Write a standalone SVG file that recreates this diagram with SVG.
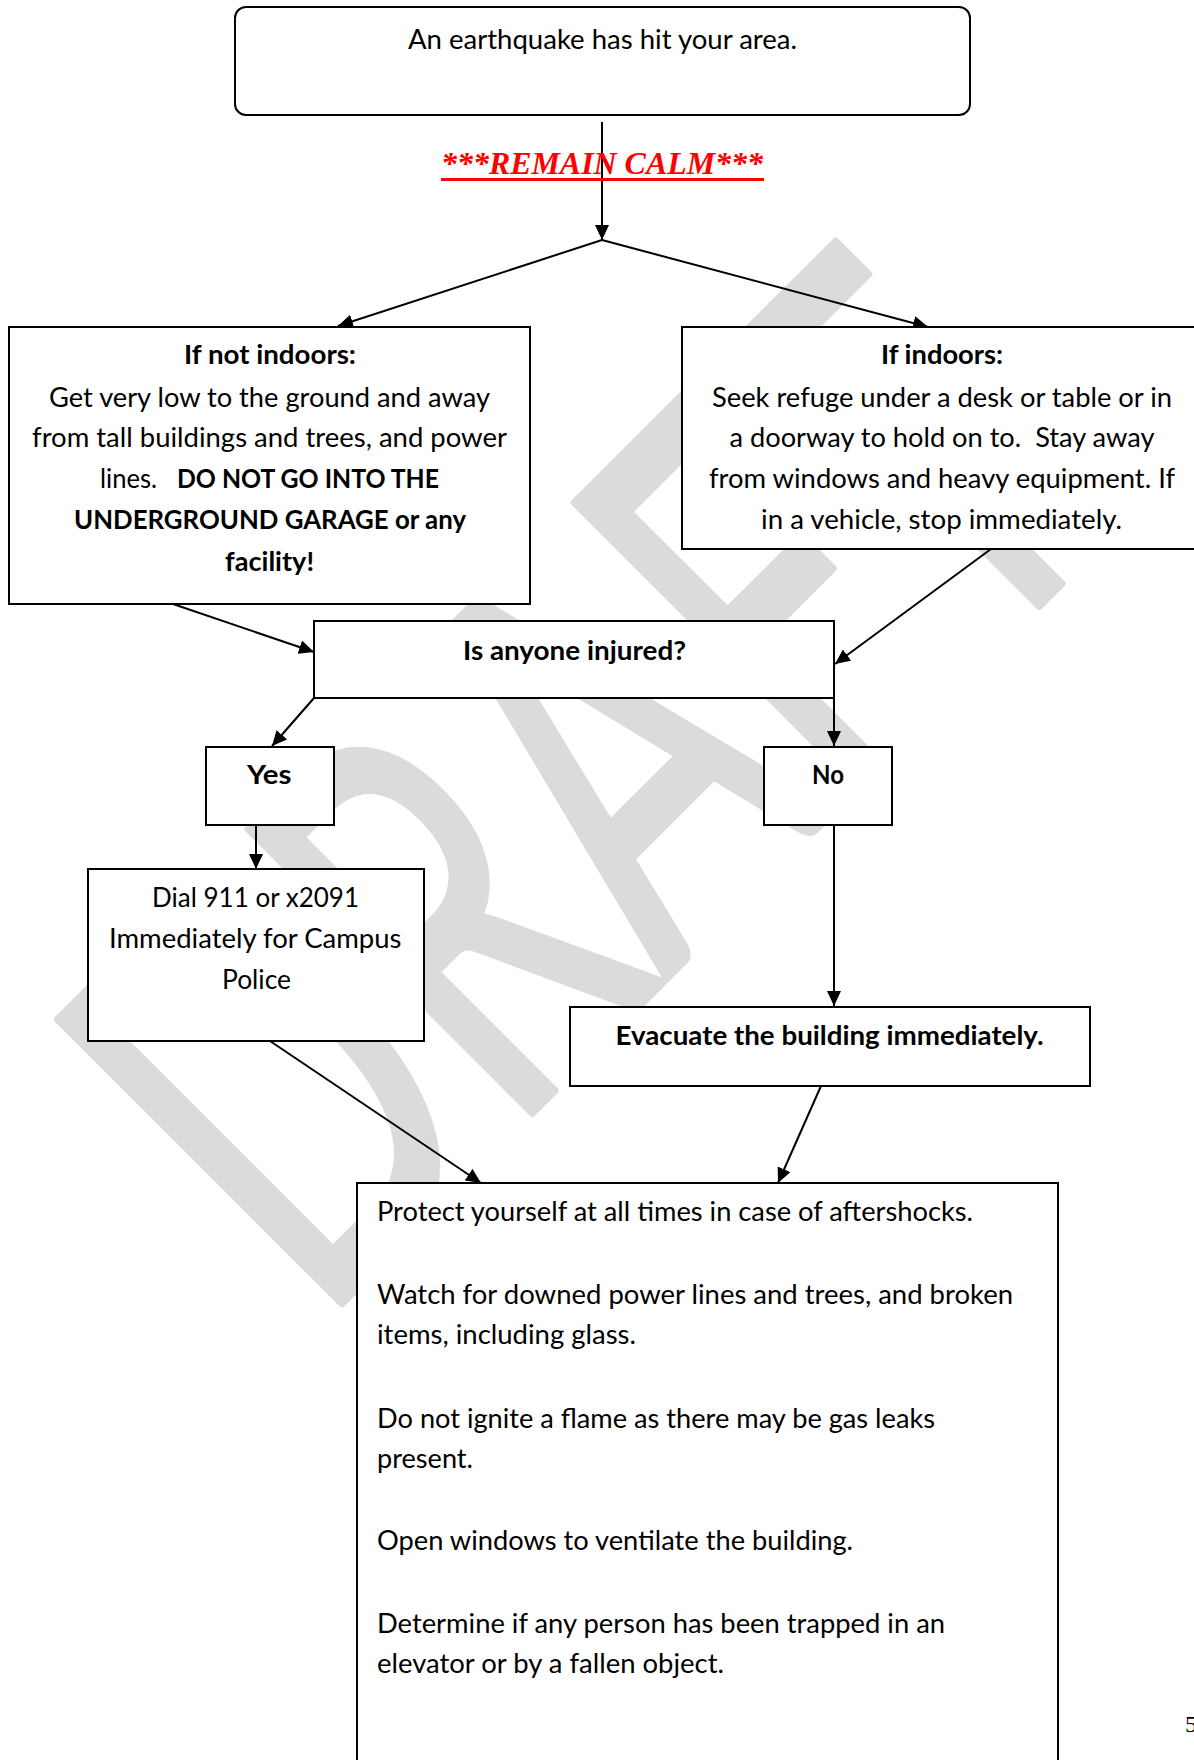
<svg xmlns="http://www.w3.org/2000/svg" width="1194" height="1760" viewBox="0 0 1194 1760">
<style>
.box{fill:#fff;stroke:#000;stroke-width:2}
.t{font-family:Lato,"Liberation Sans",sans-serif;font-size:26px;fill:#000}
.b{font-weight:700}
.con line{stroke:#000;stroke-width:2;marker-end:url(#arr)}
.wm{font-family:Lato,"Liberation Sans",sans-serif;font-size:560px;fill:#dbdbdb;stroke:#dbdbdb;stroke-width:8;stroke-linejoin:round}
</style>
<defs>
<marker id="arr" viewBox="0 0 15 14" refX="15" refY="7" markerWidth="15" markerHeight="14" markerUnits="userSpaceOnUse" orient="auto"><path d="M0,0 L15,7 L0,14 z" fill="#000"/></marker>
</defs>
<rect width="1194" height="1760" fill="#fff"/>
<g id="watermark"><text class="wm" x="318" y="1327" transform="rotate(-45 318 1327)" textLength="1140" lengthAdjust="spacingAndGlyphs">DRAFT</text></g>
<g id="connectors" class="con">
<line x1="602" y1="122" x2="602" y2="240"/>
<line x1="602" y1="240" x2="338" y2="326"/>
<line x1="602" y1="240" x2="928" y2="327"/>
<line x1="173" y1="604" x2="314" y2="652"/>
<line x1="991" y1="549" x2="835" y2="664"/>
<line x1="314" y1="698" x2="272" y2="746"/>
<line x1="834" y1="698" x2="834" y2="746"/>
<line x1="256" y1="825" x2="256" y2="869"/>
<line x1="834" y1="825" x2="834" y2="1006"/>
<line x1="270" y1="1041" x2="481" y2="1183"/>
<line x1="821" y1="1086" x2="778" y2="1183"/>
</g>
<g id="start">
<rect class="box" x="235" y="7" width="735" height="108" rx="11"/>
<text class="t" x="408" y="49" textLength="389" lengthAdjust="spacingAndGlyphs">An earthquake has hit your area.</text>
</g>
<g id="calm">
<text x="441" y="174" font-family="'Liberation Serif',serif" font-size="31" font-weight="700" font-style="italic" fill="#ff0000" textLength="322" lengthAdjust="spacingAndGlyphs">***REMAIN CALM***</text>
<line x1="441" y1="179.5" x2="764" y2="179.5" stroke="#ff0000" stroke-width="3"/>
</g>
<g id="outdoors">
<rect class="box" x="9" y="327" width="521" height="277"/>
<text class="t b" x="184" y="364" textLength="172" lengthAdjust="spacingAndGlyphs">If not indoors:</text>
<text class="t" x="49" y="407" textLength="441" lengthAdjust="spacingAndGlyphs">Get very low to the ground and away</text>
<text class="t" x="32" y="447" textLength="475" lengthAdjust="spacingAndGlyphs">from tall buildings and trees, and power</text>
<text class="t" x="100" y="488" textLength="57" lengthAdjust="spacingAndGlyphs">lines.</text>
<text class="t b" x="177" y="488" textLength="262" lengthAdjust="spacingAndGlyphs">DO NOT GO INTO THE</text>
<text class="t b" x="74" y="529" textLength="392" lengthAdjust="spacingAndGlyphs">UNDERGROUND GARAGE or any</text>
<text class="t b" x="225" y="571" textLength="89" lengthAdjust="spacingAndGlyphs">facility!</text>
</g>
<g id="indoors">
<rect class="box" x="682" y="327" width="522" height="222"/>
<text class="t b" x="881" y="364" textLength="122" lengthAdjust="spacingAndGlyphs">If indoors:</text>
<text class="t" x="712" y="407" textLength="460" lengthAdjust="spacingAndGlyphs">Seek refuge under a desk or table or in</text>
<text class="t" x="729.5" y="447" textLength="425" lengthAdjust="spacingAndGlyphs" xml:space="preserve">a doorway to hold on to.  Stay away</text>
<text class="t" x="709" y="488" textLength="466" lengthAdjust="spacingAndGlyphs">from windows and heavy equipment. If</text>
<text class="t" x="761" y="529" textLength="361" lengthAdjust="spacingAndGlyphs">in a vehicle, stop immediately.</text>
</g>
<g id="injured">
<rect class="box" x="314" y="621" width="520" height="77"/>
<text class="t b" x="463" y="660" textLength="223" lengthAdjust="spacingAndGlyphs">Is anyone injured?</text>
</g>
<g id="yes">
<rect class="box" x="206" y="747" width="128" height="78"/>
<text class="t b" x="247" y="784" textLength="44.5" lengthAdjust="spacingAndGlyphs">Yes</text>
</g>
<g id="no">
<rect class="box" x="764" y="747" width="128" height="78"/>
<text class="t b" x="812" y="784" textLength="32" lengthAdjust="spacingAndGlyphs">No</text>
</g>
<g id="dial">
<rect class="box" x="88" y="869" width="336" height="172"/>
<text class="t" x="152" y="907" textLength="207" lengthAdjust="spacingAndGlyphs">Dial 911 or x2091</text>
<text class="t" x="109" y="948" textLength="292.5" lengthAdjust="spacingAndGlyphs">Immediately for Campus</text>
<text class="t" x="222" y="989" textLength="69" lengthAdjust="spacingAndGlyphs">Police</text>
</g>
<g id="evacuate">
<rect class="box" x="570" y="1007" width="520" height="79"/>
<text class="t b" x="615.5" y="1045" textLength="428" lengthAdjust="spacingAndGlyphs">Evacuate the building immediately.</text>
</g>
<g id="after">
<rect class="box" x="357" y="1183" width="701" height="640"/>
<text class="t" x="377" y="1221" textLength="596" lengthAdjust="spacingAndGlyphs">Protect yourself at all times in case of aftershocks.</text>
<text class="t" x="377" y="1304" textLength="636" lengthAdjust="spacingAndGlyphs">Watch for downed power lines and trees, and broken</text>
<text class="t" x="377" y="1344" textLength="259" lengthAdjust="spacingAndGlyphs">items, including glass.</text>
<text class="t" x="377" y="1428" textLength="558" lengthAdjust="spacingAndGlyphs">Do not ignite a flame as there may be gas leaks</text>
<text class="t" x="377" y="1468" textLength="96" lengthAdjust="spacingAndGlyphs">present.</text>
<text class="t" x="377" y="1550" textLength="476" lengthAdjust="spacingAndGlyphs">Open windows to ventilate the building.</text>
<text class="t" x="377" y="1633" textLength="568" lengthAdjust="spacingAndGlyphs">Determine if any person has been trapped in an</text>
<text class="t" x="377" y="1673" textLength="347" lengthAdjust="spacingAndGlyphs">elevator or by a fallen object.</text>
</g>
<text x="1185" y="1732" font-family="'Liberation Serif',serif" font-size="24" fill="#000">5</text>
</svg>
